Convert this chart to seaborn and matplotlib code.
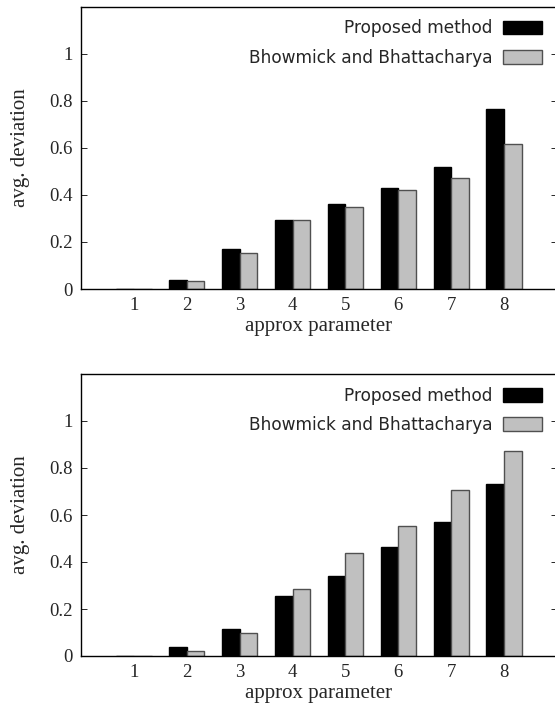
import numpy as np
import pandas as pd
import matplotlib
matplotlib.use("Agg")
import matplotlib.pyplot as plt
import seaborn as sns

params = [1, 2, 3, 4, 5, 6, 7, 8]
methods = ["Proposed method", "Bhowmick and Bhattacharya"]
top_proposed = [0.0, 0.037, 0.168, 0.292, 0.362, 0.431, 0.517, 0.766]
top_bhowmick = [0.0, 0.032, 0.153, 0.294, 0.349, 0.419, 0.470, 0.616]
bot_proposed = [0.0, 0.040, 0.116, 0.256, 0.339, 0.465, 0.569, 0.733]
bot_bhowmick = [0.0, 0.020, 0.100, 0.286, 0.437, 0.554, 0.706, 0.871]
yticks = [0, 0.2, 0.4, 0.6, 0.8, 1]
yticklabels = ["0", "0.2", "0.4", "0.6", "0.8", "1"]

sns.set_style("white")
plt.rcParams["font.family"] = ["Liberation Serif", "DejaVu Serif"]

W, H = 555, 707
fig = plt.figure(figsize=(W / 100, H / 100), dpi=100)

def make_df(a, b):
    return pd.DataFrame({
        "param": [str(p) for p in params] * 2,
        "dev": list(a) + list(b),
        "method": [methods[0]] * len(params) + [methods[1]] * len(params),
    })

def panel(top_px, base_px, a, b):
    left_px, right_px = 81, 557
    ax = fig.add_axes([left_px / W, 1 - base_px / H,
                       (right_px - left_px) / W, (base_px - top_px) / H])
    df = make_df(a, b)
    sns.barplot(data=df, x="param", y="dev", hue="method",
                order=[str(p) for p in params], hue_order=methods,
                palette=["#000000", "#c0c0c0"], saturation=1,
                width=0.667, ax=ax, legend=False)
    edge = ["#000000", "#505050"]
    for cont, ec in zip(ax.containers, edge):
        for p in cont:
            p.set_edgecolor(ec)
            p.set_linewidth(1.0)
    ax.set_xlim(-1, 8)
    ax.set_ylim(0, 1.2)
    ax.set_yticks(yticks)
    ax.set_yticklabels(yticklabels)
    ax.tick_params(axis="y", left=True, right=True, direction="in",
                   length=4, width=0.7, labelsize=13.5, pad=6)
    ax.tick_params(axis="x", length=0, labelsize=13.5, pad=6)
    for s in ax.spines.values():
        s.set_visible(True)
        s.set_color("black")
        s.set_linewidth(1.0)
    ax.set_xlabel("approx parameter", fontsize=15, labelpad=2)
    ax.set_ylabel("avg. deviation", fontsize=15, labelpad=14)
    handles = [plt.Rectangle((0, 0), 1, 1, facecolor=c, edgecolor=e, linewidth=1.0)
               for c, e in zip(["#000000", "#c0c0c0"], edge)]
    ax.legend(handles, methods, loc="upper right",
              bbox_to_anchor=(0.968, 0.955), frameon=False,
              markerfirst=False, borderaxespad=0, borderpad=0,
              handlelength=2.3, handleheight=0.88, handletextpad=0.58,
              labelspacing=0.66,
              prop={"family": "DejaVu Sans", "size": 12.25})
    return ax

panel(6.7, 289, top_proposed, top_bhowmick)
panel(374, 656, bot_proposed, bot_bhowmick)

fig.savefig("out.png", dpi=100)
